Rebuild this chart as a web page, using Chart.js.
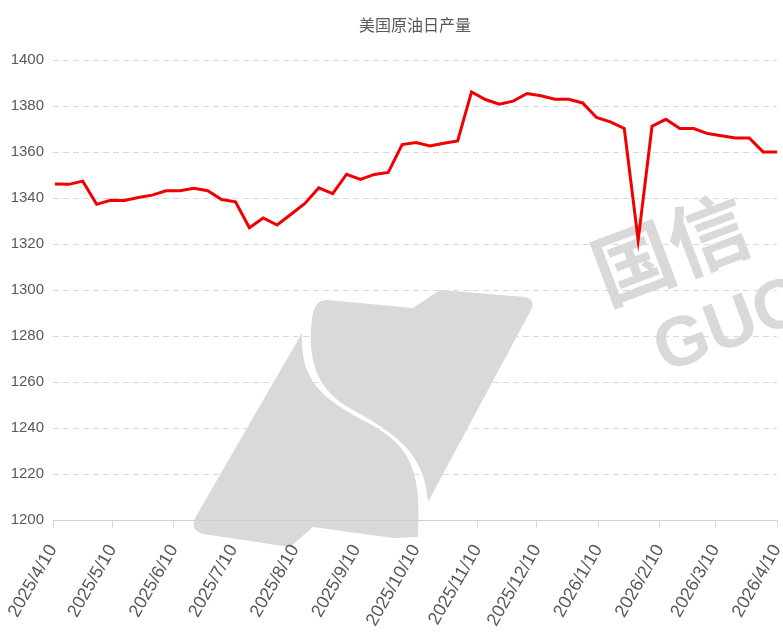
<!DOCTYPE html>
<html>
<head>
<meta charset="utf-8">
<script src="https://cdn.jsdelivr.net/npm/chart.js@4.4.1/dist/chart.umd.min.js"></script>
<style>
  html, body { margin: 0; padding: 0; background: #fff; }
  #wrap { width: 783px; height: 635px; }
</style>
</head>
<body>
<div id="wrap"><canvas id="prodChart" width="783" height="635"></canvas></div>
<script>
// weekly US crude output (10k bbl/day)
const weekDates = [
  "2025-04-11", "2025-04-18", "2025-04-25", "2025-05-02", "2025-05-09", "2025-05-16", "2025-05-23", "2025-05-30",
  "2025-06-06", "2025-06-13", "2025-06-20", "2025-06-27", "2025-07-04", "2025-07-11", "2025-07-18", "2025-07-25",
  "2025-08-01", "2025-08-08", "2025-08-15", "2025-08-22", "2025-08-29", "2025-09-05", "2025-09-12", "2025-09-19",
  "2025-09-26", "2025-10-03", "2025-10-10", "2025-10-17", "2025-10-24", "2025-10-31", "2025-11-07", "2025-11-14",
  "2025-11-21", "2025-11-28", "2025-12-05", "2025-12-12", "2025-12-19", "2025-12-26", "2026-01-02", "2026-01-09",
  "2026-01-16", "2026-01-23", "2026-01-30", "2026-02-06", "2026-02-13", "2026-02-20", "2026-02-27", "2026-03-06",
  "2026-03-13", "2026-03-20", "2026-03-27", "2026-04-03", "2026-04-10"
];
const output = [
  1346.1, 1346.0, 1347.4, 1337.3, 1339.1, 1339.0, 1340.3, 1341.3,
  1343.2, 1343.2, 1344.3, 1343.2, 1339.4, 1338.4, 1327.1, 1331.4,
  1328.3, 1333.0, 1337.7, 1344.5, 1342.0, 1350.4, 1348.1, 1350.3,
  1351.2, 1363.3, 1364.2, 1362.7, 1363.9, 1364.9, 1386.2, 1382.9,
  1380.9, 1382.2, 1385.5, 1384.5, 1383.0, 1383.0, 1381.4, 1375.1,
  1373.2, 1370.3, 1321.7, 1371.3, 1374.3, 1370.3, 1370.3, 1368.1,
  1367.1, 1366.2, 1366.2, 1360.1, 1360.1
];
const monthTicks = [
  "2025/4/10", "2025/5/10", "2025/6/10", "2025/7/10", "2025/8/10", "2025/9/10", "2025/10/10",
  "2025/11/10", "2025/12/10", "2026/1/10", "2026/2/10", "2026/3/10", "2026/4/10"
];
const yTicks = { min: 1200, max: 1400, step: 20 };

const DAY = 86400000;
function toUTC(s) {
  const p = s.split(/[-\/]/).map(Number);
  return Date.UTC(p[0], p[1] - 1, p[2]);
}
const origin = toUTC(monthTicks[0]);
const dayOf = s => Math.round((toUTC(s) - origin) / DAY);
const tickDays = monthTicks.map(dayOf);
const points = weekDates.map((d, i) => ({ x: dayOf(d), y: output[i] }));

const labelColor = "#595959";

// faint logo watermark behind the plot
const watermark = {
  id: "watermark",
  beforeDraw(chart) {
    const c = chart.ctx;
    c.save();
    c.fillStyle = "#fff";
    c.fillRect(0, 0, chart.width, chart.height);
    c.fillStyle = "#d9d9d9";
    // right half of the S
    c.beginPath();
    c.moveTo(313, 313);
    c.quadraticCurveTo(316, 300, 327, 300);
    c.lineTo(413, 308);
    c.lineTo(440, 290);
    c.lineTo(525, 297);
    c.quadraticCurveTo(536, 300, 531, 310);
    c.lineTo(428, 502);
    c.bezierCurveTo(425, 460, 405, 438, 353, 410);
    c.bezierCurveTo(318, 392, 305, 360, 313, 313);
    c.closePath();
    c.fill();
    // left half of the S
    c.beginPath();
    c.moveTo(302, 333);
    c.bezierCurveTo(300, 380, 320, 398, 370, 424);
    c.bezierCurveTo(410, 446, 422, 470, 418, 537);
    c.lineTo(393, 538);
    c.lineTo(313, 527);
    c.lineTo(290, 547);
    c.lineTo(203, 534);
    c.quadraticCurveTo(190, 530, 195, 518);
    c.closePath();
    c.fill();
    // 国信 / GUO
    c.translate(690, 300);
    c.rotate(-0.36);
    c.font = "bold 80px 'Noto Sans CJK SC', sans-serif";
    c.textAlign = "center";
    c.textBaseline = "middle";
    c.fillText("国信", 0, -55);
    c.font = "bold 70px 'Liberation Sans', sans-serif";
    c.fillText("GUO", 30, 40);
    c.restore();
  }
};

new Chart(document.getElementById("prodChart").getContext("2d"), {
  type: "line",
  data: {
    datasets: [{
      label: "美国原油日产量",
      data: points,
      borderColor: "#f00000",
      borderWidth: 3,
      pointRadius: 0,
      tension: 0,
      fill: false
    }]
  },
  options: {
    responsive: false,
    animation: false,
    layout: { padding: { left: 0, right: 6, top: 0, bottom: 0 } },
    plugins: {
      legend: { display: false },
      tooltip: { enabled: false },
      title: {
        display: true,
        text: "美国原油日产量",
        fullSize: false,
        color: labelColor,
        font: { family: "'Noto Sans CJK SC', sans-serif", size: 16, weight: "normal" },
        padding: { top: 15, bottom: 26 }
      }
    },
    scales: {
      x: {
        type: "linear",
        min: tickDays[0],
        max: tickDays[tickDays.length - 1],
        afterBuildTicks: axis => { axis.ticks = tickDays.map(v => ({ value: v })); },
        afterFit: axis => {
          axis.height = 115;
          axis.paddingLeft = 0;
          axis.paddingRight = 0;
        },
        grid: { drawOnChartArea: false, drawTicks: true, tickLength: 8, color: "#d9d9d9" },
        border: { display: true, color: "#d0d0d0" },
        ticks: {
          autoSkip: false,
          maxRotation: 60,
          minRotation: 60,
          padding: 13,
          color: labelColor,
          font: { family: "'Liberation Sans', sans-serif", size: 18 },
          callback: v => monthTicks[tickDays.indexOf(v)]
        }
      },
      y: {
        min: yTicks.min,
        max: yTicks.max,
        afterFit: axis => {
          axis.width = 53;
          axis.paddingTop = 0;
          axis.paddingBottom = 0;
        },
        grid: { color: "#d9d9d9", drawTicks: false },
        border: { display: false, dash: [6, 4] },
        ticks: {
          stepSize: yTicks.step,
          padding: 9,
          color: labelColor,
          font: { family: "'Liberation Sans', sans-serif", size: 15 },
          callback: v => String(v)
        }
      }
    }
  },
  plugins: [watermark]
});
</script>
</body>
</html>
